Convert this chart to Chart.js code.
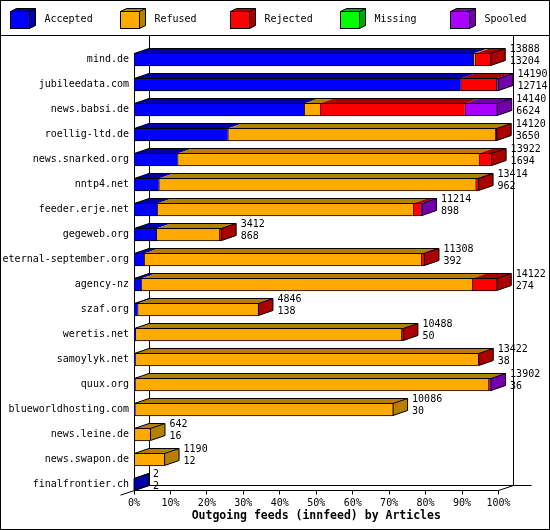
<!DOCTYPE html>
<html>
<head>
<meta charset="utf-8">
<script src="https://cdn.jsdelivr.net/npm/chart.js@4.4.1/dist/chart.umd.min.js"></script>
<style>
  html, body { margin: 0; padding: 0; background: #fff; }
  canvas { display: block; }
</style>
</head>
<body>
<canvas id="c" width="550" height="530"></canvas>
<script>
// ---- data ----
const categories = ['mind.de','jubileedata.com','news.babsi.de','roellig-ltd.de','news.snarked.org','nntp4.net','feeder.erje.net','gegeweb.org','eternal-september.org','agency-nz','szaf.org','weretis.net','samoylyk.net','quux.org','blueworldhosting.com','news.leine.de','news.swapon.de','finalfrontier.ch'];
const totals   = [13888,14190,14140,14120,13922,13414,11214,3412,11308,14122,4846,10488,13422,13902,10086,642,1190,2];
const accepted = [13204,12714,6624,3650,1694,962,898,868,392,274,138,50,38,36,30,16,12,2];
const refused  = [84,0,611,10410,11723,12332,9956,2454,10776,12898,4678,10358,13344,13756,10056,626,1178,0];
const rejected = [600,1390,5645,60,505,120,300,90,140,950,30,80,40,50,0,0,0,0];
const missing  = [0,0,0,0,0,0,0,0,0,0,0,0,0,0,0,0,0,0];
const spooled  = [0,86,1260,0,0,0,60,0,0,0,0,0,0,60,0,0,0,0];
const seriesNames = ['Accepted','Refused','Rejected','Missing','Spooled'];
const seriesData  = [accepted, refused, rejected, missing, spooled];
const axisTitle = 'Outgoing feeds (innfeed) by Articles';

// ---- styles ----
const frontColors = ['#0000FF','#FFAA00','#FF0000','#00FF00','#AA00FF'];
const darkColors  = ['#0000A8','#B38000','#AA0000','#00A800','#7200AA'];
const FONT = 'DejaVu Sans Mono';
const BDX = 14.5, BDY = 5;     // bar depth
const WDX = 15, WDY = 5;       // wall depth

const maxTotal = Math.max(...totals);

function line(ctx, x1, y1, x2, y2) {
  ctx.beginPath(); ctx.moveTo(x1, y1); ctx.lineTo(x2, y2); ctx.stroke();
}

const background = {
  id: 'background',
  beforeDraw(chart) {
    const ctx = chart.ctx;
    ctx.save();
    ctx.fillStyle = '#fff';
    ctx.fillRect(0, 0, chart.width, chart.height);
    ctx.restore();
  }
};

const wall = {
  id: 'wall',
  beforeDatasetsDraw(chart) {
    const ctx = chart.ctx, ca = chart.chartArea;
    const ys = chart.scales.y, xs = chart.scales.x;
    const n = categories.length;
    const firstC = ys.getPixelForValue(0), lastC = ys.getPixelForValue(n - 1);
    const floorY = Math.floor(lastC + 6) + 0.5;
    const xL = Math.floor(ca.left) + 0.5, xR = Math.floor(ca.right) + 0.5;
    const topY = 35.5;
    ctx.save();
    ctx.strokeStyle = '#000'; ctx.lineWidth = 1;
    line(ctx, 0, topY, chart.width, topY);
    line(ctx, xL + WDX, topY, xL + WDX, floorY - WDY);
    line(ctx, xR + WDX, topY, xR + WDX, floorY - WDY);
    line(ctx, xL + WDX, floorY - WDY, xR + WDX + 18, floorY - WDY);
    line(ctx, xL, floorY, xR, floorY);
    line(ctx, xL + WDX, floorY - WDY, xL - 14, floorY + 14 * WDY / WDX);
    line(ctx, xR, floorY, xR + WDX, floorY - WDY);
    line(ctx, xL, Math.floor(firstC - 6.5) + 0.5, xL, floorY);
    xs.ticks.forEach(t => {
      const px = Math.floor(xs.getPixelForValue(t.value)) + 0.5;
      line(ctx, px, floorY, px, floorY + 4);
    });
    ctx.restore();
  }
};

const threeD = {
  id: 'threeD',
  afterDatasetsDraw(chart) {
    const ctx = chart.ctx;
    ctx.save();
    ctx.strokeStyle = '#000'; ctx.lineWidth = 1;
    for (let i = 0; i < categories.length; i++) {
      const segs = [];
      let ref = null;
      chart.data.datasets.forEach((ds, d) => {
        const el = chart.getDatasetMeta(d).data[i];
        ref = el;
        if (ds.data[i] > 0) segs.push({ x0: el.base, x1: el.x, d });
      });
      if (!segs.length) continue;
      const top = ref.y - ref.height / 2 + 0.5;
      const bot = ref.y + ref.height / 2 - 0.5;
      // top faces
      segs.forEach(s => {
        ctx.fillStyle = darkColors[s.d];
        ctx.beginPath();
        ctx.moveTo(s.x0, top); ctx.lineTo(s.x1, top);
        ctx.lineTo(s.x1 + BDX, top - BDY); ctx.lineTo(s.x0 + BDX, top - BDY);
        ctx.closePath(); ctx.fill();
      });
      const xs0 = Math.floor(segs[0].x0) + 0.5;
      const last = segs[segs.length - 1];
      const xe = last.x1;
      // side face
      ctx.fillStyle = darkColors[last.d];
      ctx.beginPath();
      ctx.moveTo(xe, top); ctx.lineTo(xe + BDX, top - BDY);
      ctx.lineTo(xe + BDX, bot - BDY); ctx.lineTo(xe, bot);
      ctx.closePath(); ctx.fill();
      // outlines
      ctx.beginPath();
      ctx.moveTo(xs0, top); ctx.lineTo(xs0 + BDX, top - BDY);
      ctx.lineTo(xe + BDX, top - BDY); ctx.lineTo(xe + BDX, bot - BDY);
      ctx.lineTo(xe, bot); ctx.lineTo(xe, top); ctx.lineTo(xe + BDX, top - BDY);
      ctx.stroke();
      line(ctx, xs0, top, xe, top);
    }
    ctx.restore();
  }
};

const labelsAndLegend = {
  id: 'labelsAndLegend',
  afterDraw(chart) {
    const ctx = chart.ctx;
    ctx.save();
    ctx.font = '10px "' + FONT + '"';
    ctx.fillStyle = '#000';
    ctx.textAlign = 'left';
    ctx.textBaseline = 'middle';
    const nd = chart.data.datasets.length;
    for (let i = 0; i < categories.length; i++) {
      const el = chart.getDatasetMeta(nd - 1).data[i];
      const x = el.x + BDX + 4.5;
      ctx.fillText(String(totals[i]), x, el.y - 10);
      ctx.fillText(String(accepted[i]), x, el.y + 1.5);
    }
    // legend
    chart.data.datasets.forEach((ds, d) => {
      const bx = 10 + d * 110 + 0.5, by = 11.5, w = 19, h = 17, dx = 6, dy = 3;
      ctx.fillStyle = ds.backgroundColor;
      ctx.fillRect(bx, by, w, h);
      ctx.fillStyle = darkColors[d];
      ctx.beginPath();
      ctx.moveTo(bx, by); ctx.lineTo(bx + dx, by - dy); ctx.lineTo(bx + w + dx, by - dy);
      ctx.lineTo(bx + w + dx, by + h - dy); ctx.lineTo(bx + w, by + h); ctx.lineTo(bx + w, by);
      ctx.closePath(); ctx.fill();
      ctx.strokeStyle = '#000'; ctx.lineWidth = 1;
      ctx.strokeRect(bx, by, w, h);
      ctx.beginPath();
      ctx.moveTo(bx, by); ctx.lineTo(bx + dx, by - dy); ctx.lineTo(bx + w + dx, by - dy);
      ctx.lineTo(bx + w + dx, by + h - dy); ctx.lineTo(bx + w, by + h);
      ctx.moveTo(bx + w, by); ctx.lineTo(bx + w + dx, by - dy);
      ctx.stroke();
      ctx.fillStyle = '#000';
      ctx.fillText(ds.label, bx + 34, 19.5);
    });
    // outer border
    ctx.strokeStyle = '#000';
    ctx.strokeRect(0.5, 0.5, chart.width - 1, chart.height - 1);
    ctx.restore();
  }
};

const datasets = seriesNames.map((name, d) => ({
  label: name,
  data: seriesData[d],
  backgroundColor: frontColors[d],
  borderColor: '#000',
  borderWidth: { top: 1, bottom: 1, left: 1, right: 0 },
  borderSkipped: false,
  barThickness: 13
}));

new Chart(document.getElementById('c'), {
  type: 'bar',
  data: { labels: categories, datasets },
  options: {
    indexAxis: 'y',
    responsive: false,
    animation: false,
    devicePixelRatio: 1,
    layout: { padding: { top: 47, right: 51.5, bottom: 0, left: 0 } },
    plugins: { legend: { display: false }, tooltip: { enabled: false } },
    scales: {
      x: {
        stacked: true, min: 0, max: maxTotal,
        afterFit: s => { s.height = 33; },
        grid: { display: false, drawTicks: false },
        border: { display: false },
        ticks: {
          stepSize: maxTotal / 10, autoSkip: false, maxRotation: 0, padding: 0,
          color: '#000', font: { family: FONT, size: 10 },
          callback: v => Math.round(v / maxTotal * 100) + '%'
        },
        title: {
          display: true, text: axisTitle, color: '#000',
          font: { family: FONT, size: 11.5, weight: 'bold' },
          padding: { top: 0, bottom: 7 }
        }
      },
      y: {
        stacked: true,
        afterFit: s => { s.width = 134; },
        grid: { display: false, drawTicks: false },
        border: { display: false },
        ticks: { padding: 5, autoSkip: false, color: '#000', font: { family: FONT, size: 10 } }
      }
    }
  },
  plugins: [background, wall, threeD, labelsAndLegend]
});
</script>
</body>
</html>
